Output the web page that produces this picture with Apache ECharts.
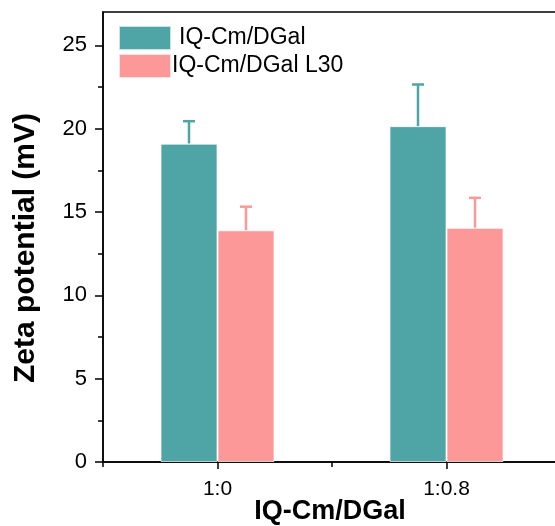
<!DOCTYPE html>
<html>
<head>
<meta charset="utf-8">
<script src="https://cdn.jsdelivr.net/npm/echarts@6/dist/echarts.min.js"></script>
<style>
  html, body { margin: 0; padding: 0; background: #fff; }
  #chart { width: 555px; height: 526px; }
</style>
</head>
<body>
<div id="chart"></div>
<script>
// data
const categories = ['1:0', '1:0.8']
const categoryPos = [1, 2]
const seriesNames = ['IQ-Cm/DGal', 'IQ-Cm/DGal L30']
const dgalValues = [19.1, 20.15]
const dgalErrors = [1.35, 2.5]
const l30Values = [13.9, 14.05]
const l30Errors = [1.42, 1.8]
const yMajorTicks = [0, 5, 10, 15, 20, 25]
const yMinorTicks = [2.5, 7.5, 12.5, 17.5, 22.5]
const xMinorTicks = [0.5, 1.5]

const colors = ['#4fa5a5', '#fc9998']
const barWidth = 57
const font = 'Liberation Sans, Arial, sans-serif'

const chart = echarts.init(document.getElementById('chart'), null, { renderer: 'canvas' })

// 误差线 (只画上半部分)
const errorData = []
dgalValues.forEach((v, i) => errorData.push([categoryPos[i], v, v + dgalErrors[i], 0]))
l30Values.forEach((v, i) => errorData.push([categoryPos[i], v, v + l30Errors[i], 1]))

const renderError = (params, api) => {
  const which = api.value(3)
  const offset = which === 0 ? -barWidth / 2 : barWidth / 2
  const base = api.coord([api.value(0), api.value(1)])
  const top = api.coord([api.value(0), api.value(2)])
  const x = base[0] + offset
  const style = { stroke: colors[which], lineWidth: 2.5 }
  return {
    type: 'group',
    children: [
      { type: 'line', shape: { x1: x, y1: base[1], x2: x, y2: top[1] }, style },
      { type: 'line', shape: { x1: x - 6, y1: top[1], x2: x + 6, y2: top[1] }, style }
    ]
  }
}

const xMax = 0.5 + (557 - 103) / 229

chart.setOption({
  animation: false,
  textStyle: { fontFamily: font },
  grid: {
    left: 103,
    right: -2,
    top: 12,
    bottom: 64,
    outerBoundsMode: 'none',
    show: true,
    borderColor: '#000',
    borderWidth: 1.5,
    backgroundColor: 'transparent'
  },
  legend: {
    orient: 'vertical',
    left: 113,
    top: 20,
    itemWidth: 52,
    itemHeight: 24,
    itemGap: 2,
    icon: 'rect',
    textStyle: { fontSize: 23, color: '#000', fontFamily: font },
    data: [
      { name: seriesNames[0], textStyle: { padding: [0, 0, 0, 3] } },
      { name: seriesNames[1], textStyle: { padding: [0, 0, 0, -4] } }
    ]
  },
  xAxis: [
    {
      type: 'value',
      min: 0.5,
      max: xMax,
      interval: 0.5,
      name: 'IQ-Cm/DGal',
      nameLocation: 'middle',
      nameGap: 36,
      nameMoveOverlap: false,
      nameTextStyle: { fontSize: 27, fontWeight: 'bold', color: '#000', fontFamily: font },
      axisLine: { lineStyle: { color: '#000', width: 1.5 } },
      axisTick: { length: 7, customValues: categoryPos, lineStyle: { color: '#000', width: 1.5 } },
      axisLabel: {
        customValues: categoryPos,
        margin: 17,
        fontSize: 21,
        color: '#000',
        formatter: (v) => categories[categoryPos.indexOf(v)] || ''
      },
      splitLine: { show: false }
    },
    {
      type: 'value',
      min: 0.5,
      max: xMax,
      interval: 0.5,
      position: 'bottom',
      axisLine: { show: false },
      axisTick: { length: 5, customValues: xMinorTicks, lineStyle: { color: '#000', width: 1.5 } },
      axisLabel: { show: false },
      splitLine: { show: false }
    }
  ],
  yAxis: [
    {
      type: 'value',
      min: 0,
      max: 27,
      interval: 5,
      name: 'Zeta potential (mV)',
      nameLocation: 'middle',
      nameGap: 62,
      nameMoveOverlap: false,
      nameTextStyle: { fontSize: 30, fontWeight: 'bold', color: '#000', fontFamily: font, padding: [0, 22, 0, 0] },
      axisLine: { show: true, lineStyle: { color: '#000', width: 1.5 } },
      axisTick: { show: true, length: 8, customValues: yMajorTicks, lineStyle: { color: '#000', width: 1.5 } },
      axisLabel: { customValues: yMajorTicks, margin: 16, fontSize: 22, color: '#000' },
      splitLine: { show: false }
    },
    {
      type: 'value',
      min: 0,
      max: 27,
      interval: 5,
      position: 'left',
      offset: 0,
      axisLine: { show: false },
      axisTick: { show: true, length: 5, customValues: yMinorTicks, lineStyle: { color: '#000', width: 1.5 } },
      axisLabel: { show: false },
      splitLine: { show: false }
    }
  ],
  series: [
    {
      name: seriesNames[0],
      type: 'bar',
      barWidth: barWidth,
      barGap: '0%',
      itemStyle: { color: colors[0], borderColor: 'rgba(255,255,255,0.7)', borderWidth: 1 },
      data: dgalValues.map((v, i) => [categoryPos[i], v])
    },
    {
      name: seriesNames[1],
      type: 'bar',
      barWidth: barWidth,
      barGap: '0%',
      itemStyle: { color: colors[1], borderColor: 'rgba(255,255,255,0.7)', borderWidth: 1 },
      data: l30Values.map((v, i) => [categoryPos[i], v])
    },
    {
      type: 'custom',
      renderItem: renderError,
      data: errorData,
      z: 1,
      silent: true
    }
  ]
})
</script>
</body>
</html>
